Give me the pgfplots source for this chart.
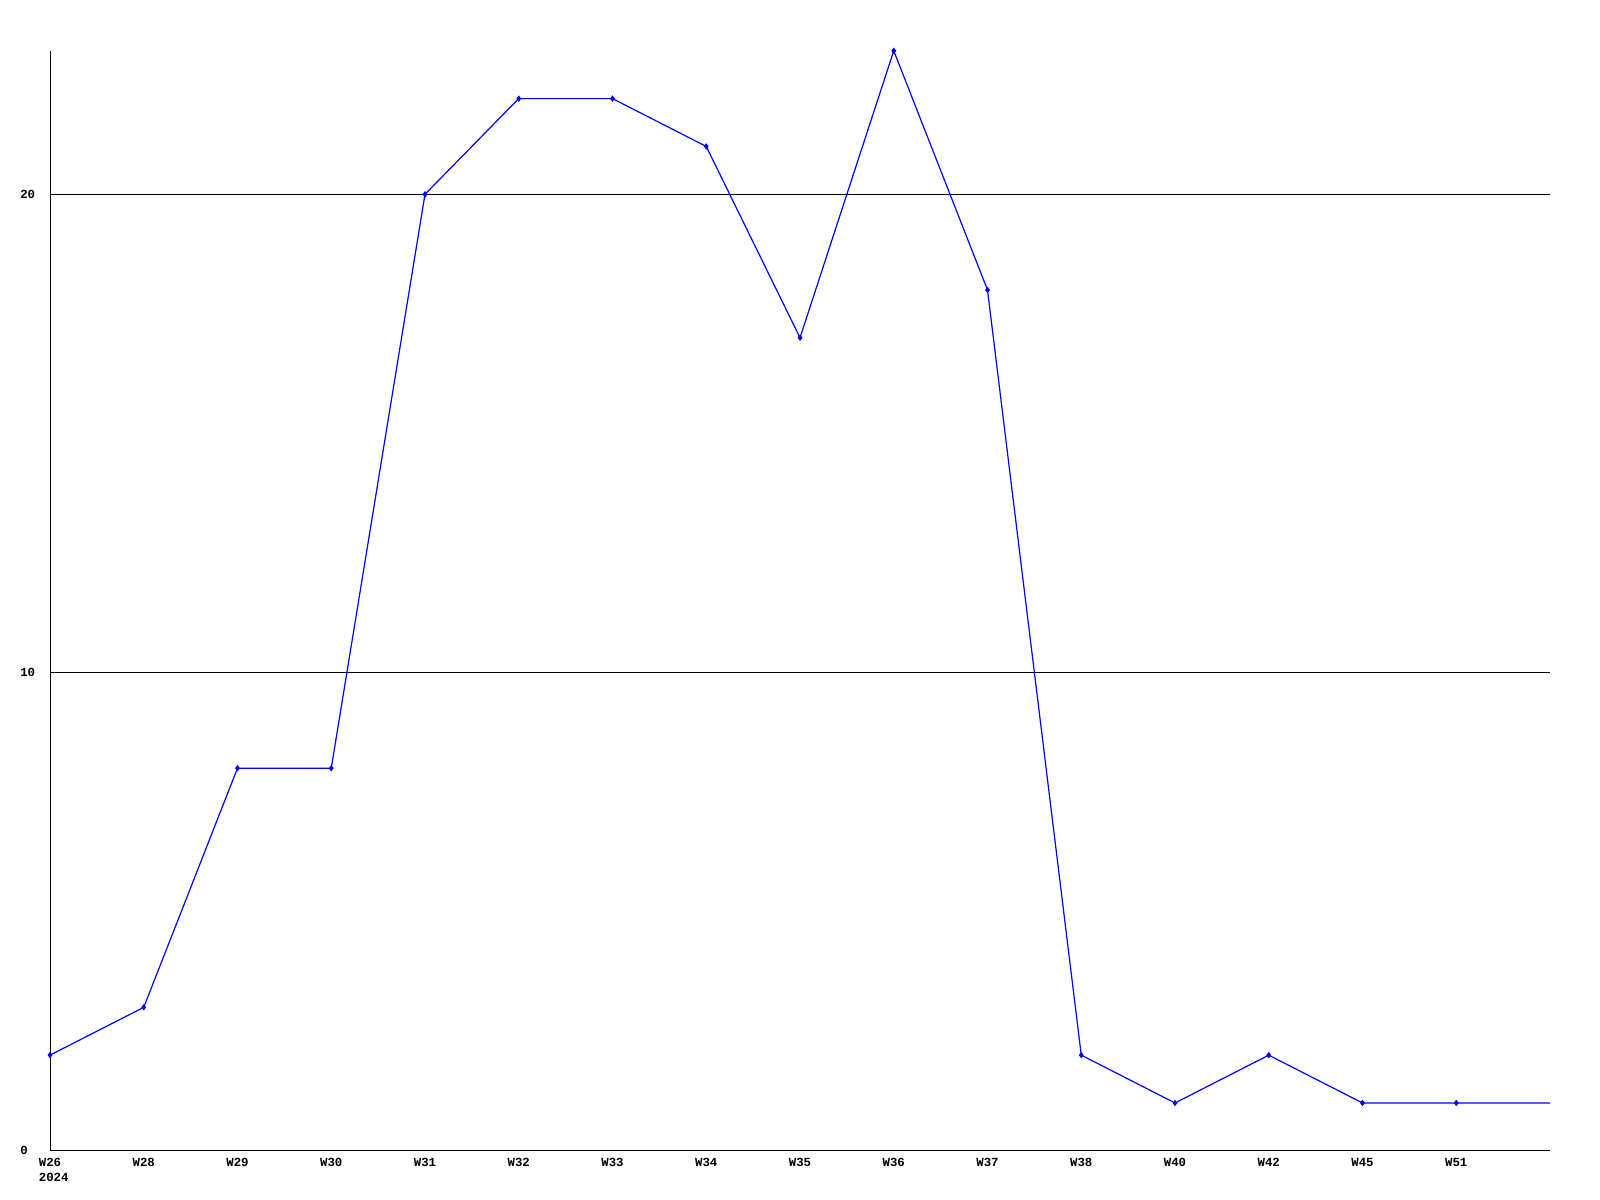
\documentclass[border=0pt]{standalone}
\usepackage{fontspec}
\setmainfont{Liberation Mono}
\usepackage{pgfplots}
\pgfplotsset{compat=1.18}
\definecolor{lineblue}{RGB}{0,0,255}
\begin{document}
\fontsize{8.8}{10.7}\selectfont\bfseries
\begin{tikzpicture}
\begin{axis}[
    scale only axis,
    width=37.5cm, height=27.5cm,
    xmin=0, xmax=16, ymin=0, ymax=23,
    axis lines=left,
    axis line style={-, line width=0.25mm, black},
    major tick length=0pt,
    ytick={0,10,20},
    yticklabels={0,10,20},
    ymajorgrids,
    grid style={draw=black, line width=0.3mm},
    xtick={0,...,15},
    xticklabels={{W26\\\rlap{2024}},W28,W29,W30,W31,W32,W33,W34,W35,W36,W37,W38,W40,W42,W45,W51},
    xticklabel style={align=left, inner sep=0pt, yshift=-1.8mm, font=\fontsize{8.8}{10.7}\selectfont\bfseries},
    yticklabel style={anchor=west, inner sep=0pt, xshift=-7.5mm, font=\fontsize{8.8}{10.7}\selectfont\bfseries},
    clip=false,
]
\addplot[lineblue, line width=0.3mm, mark=diamond*, mark size=1.6pt,
    mark indices={1,...,16}, mark options={fill=lineblue, draw=lineblue}]
  coordinates {(0,2) (1,3) (2,8) (3,8) (4,20) (5,22) (6,22) (7,21) (8,17) (9,23) (10,18) (11,2) (12,1) (13,2) (14,1) (15,1) (16,1)};
\end{axis}
\path (current axis.south west) ++(-1.25cm,-1.21cm) coordinate (bl);
\path (current axis.north east) ++(1.25cm,1.27cm) coordinate (tr);
\path (bl) rectangle (tr);
\end{tikzpicture}
\end{document}
